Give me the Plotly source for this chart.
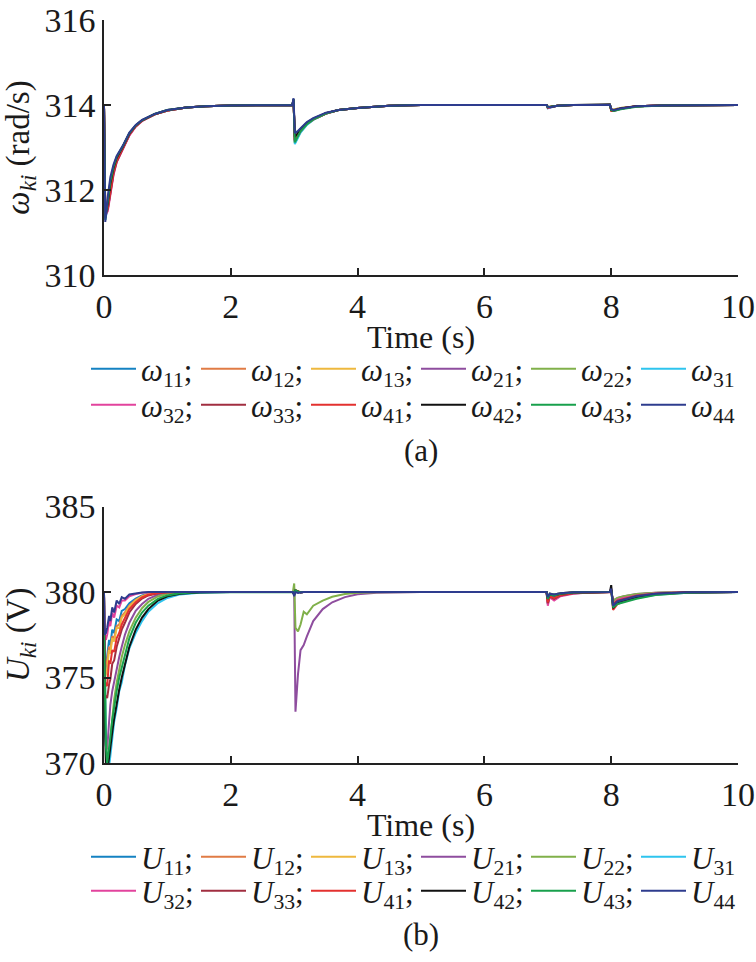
import plotly.graph_objects as go
from plotly.subplots import make_subplots

# --- data ---
# (a) angular frequency of each DG unit
t_omega = [0, 0.02, 0.06, 0.1, 0.15, 0.2, 0.3, 0.4, 0.5, 0.6, 0.8, 1.0, 1.3, 1.6, 2.0,
           2.97, 2.99, 3.01, 3.05, 3.1, 3.2, 3.3, 3.5, 3.7, 4.0, 4.5, 5.0,
           6.98, 7.0, 7.04, 7.15, 7.4, 7.98, 8.0, 8.04, 8.15, 8.4, 8.8, 10.0]

w11 = [314.0, 311.4, 311.7, 312.1, 312.5, 312.75, 313.0, 313.3, 313.5, 313.63, 313.78, 313.87, 313.94, 313.97, 313.99,
       314.0, 314.1, 313.15, 313.28, 313.4, 313.56, 313.66, 313.8, 313.88, 313.93, 313.98, 314.0,
       314.0, 313.93, 313.95, 313.98, 314.0, 314.0, 313.9, 313.87, 313.92, 313.97, 313.99, 314.0]
w12 = [314.0, 311.5, 311.6, 312.0, 312.45, 312.7, 313.0, 313.3, 313.5, 313.63, 313.78, 313.87, 313.94, 313.97, 313.99,
       314.0, 314.08, 313.2, 313.3, 313.42, 313.57, 313.67, 313.81, 313.88, 313.93, 313.98, 314.0,
       314.0, 313.95, 313.96, 313.98, 314.0, 314.0, 313.88, 313.89, 313.93, 313.97, 313.99, 314.0]
w13 = [314.0, 311.45, 311.65, 312.05, 312.5, 312.72, 313.02, 313.32, 313.51, 313.64, 313.78, 313.87, 313.94, 313.97, 313.99,
       314.0, 314.1, 313.18, 313.29, 313.41, 313.57, 313.67, 313.81, 313.88, 313.93, 313.98, 314.0,
       314.0, 313.95, 313.96, 313.98, 314.0, 314.0, 313.89, 313.88, 313.92, 313.97, 313.99, 314.0]
w21 = [314.0, 311.35, 311.55, 311.95, 312.4, 312.68, 312.98, 313.3, 313.5, 313.63, 313.78, 313.87, 313.94, 313.97, 313.99,
       314.0, 314.12, 313.12, 313.25, 313.38, 313.55, 313.66, 313.8, 313.88, 313.93, 313.98, 314.0,
       314.0, 313.94, 313.95, 313.98, 314.0, 314.0, 313.9, 313.87, 313.91, 313.97, 313.99, 314.0]
w22 = [314.0, 311.5, 311.7, 312.1, 312.5, 312.75, 313.02, 313.32, 313.51, 313.64, 313.78, 313.87, 313.94, 313.97, 313.99,
       314.0, 314.1, 313.1, 313.22, 313.36, 313.54, 313.65, 313.8, 313.88, 313.93, 313.98, 314.0,
       314.0, 313.96, 313.96, 313.98, 314.0, 314.0, 313.9, 313.89, 313.93, 313.97, 313.99, 314.0]
w31 = [314.0, 311.3, 311.6, 312.0, 312.42, 312.7, 313.0, 313.3, 313.5, 313.63, 313.78, 313.87, 313.94, 313.97, 313.99,
       314.0, 314.12, 313.08, 313.2, 313.35, 313.53, 313.65, 313.8, 313.88, 313.93, 313.98, 314.0,
       314.0, 313.92, 313.94, 313.98, 314.0, 314.0, 313.89, 313.86, 313.91, 313.97, 313.99, 314.0]
w32 = [314.0, 311.4, 311.5, 311.9, 312.35, 312.65, 312.97, 313.28, 313.49, 313.62, 313.78, 313.87, 313.94, 313.97, 313.99,
       314.0, 314.1, 313.15, 313.26, 313.39, 313.56, 313.66, 313.8, 313.88, 313.93, 313.98, 314.0,
       314.0, 313.93, 313.94, 313.98, 314.0, 314.0, 313.9, 313.88, 313.92, 313.97, 313.99, 314.0]
w33 = [314.0, 311.45, 311.55, 311.92, 312.38, 312.66, 312.98, 313.3, 313.5, 313.63, 313.78, 313.87, 313.94, 313.97, 313.99,
       314.0, 314.09, 313.18, 313.28, 313.4, 313.56, 313.66, 313.8, 313.88, 313.93, 313.98, 314.0,
       314.0, 313.94, 313.95, 313.98, 314.0, 314.0, 313.89, 313.88, 313.92, 313.97, 313.99, 314.0]
w41 = [314.0, 311.4, 311.6, 312.0, 312.44, 312.7, 313.0, 313.31, 313.5, 313.63, 313.78, 313.87, 313.94, 313.97, 313.99,
       314.0, 314.11, 313.16, 313.27, 313.4, 313.56, 313.66, 313.8, 313.88, 313.93, 313.98, 314.0,
       314.0, 313.95, 313.96, 313.98, 314.0, 314.0, 313.86, 313.86, 313.91, 313.97, 313.99, 314.0]
w42 = [314.0, 311.35, 311.7, 312.15, 312.52, 312.76, 313.03, 313.33, 313.52, 313.64, 313.79, 313.88, 313.94, 313.97, 313.99,
       314.0, 314.14, 313.25, 313.33, 313.44, 313.58, 313.68, 313.81, 313.88, 313.93, 313.98, 314.0,
       314.0, 313.95, 313.96, 313.98, 314.0, 314.02, 313.88, 313.87, 313.92, 313.97, 313.99, 314.0]
w43 = [314.0, 311.3, 311.75, 312.2, 312.55, 312.78, 313.04, 313.34, 313.52, 313.64, 313.79, 313.88, 313.94, 313.97, 313.99,
       314.0, 314.13, 313.12, 313.24, 313.38, 313.55, 313.66, 313.8, 313.88, 313.93, 313.98, 314.0,
       314.0, 313.95, 313.96, 313.98, 314.0, 314.0, 313.88, 313.86, 313.9, 313.96, 313.99, 314.0]
w44 = [314.0, 311.25, 311.85, 312.3, 312.6, 312.8, 313.05, 313.35, 313.53, 313.65, 313.79, 313.88, 313.94, 313.97, 313.99,
       314.0, 314.16, 313.34, 313.38, 313.46, 313.6, 313.69, 313.82, 313.88, 313.93, 313.98, 314.0,
       314.0, 313.96, 313.95, 313.98, 314.0, 314.0, 313.9, 313.88, 313.92, 313.97, 313.99, 314.0]

# (b) output voltage of each DG unit
t_volt = [0, 0.01, 0.03, 0.05, 0.08, 0.1, 0.13, 0.16, 0.2, 0.24, 0.28, 0.33, 0.4, 0.5, 0.6, 0.7, 0.85, 1.0, 1.2, 1.5, 2.0,
          2.98, 3.0, 3.02, 3.06, 3.1, 3.15, 3.2, 3.3, 3.45, 3.6, 3.8, 4.0, 4.3, 5.0,
          6.98, 7.0, 7.03, 7.1, 7.2, 7.4, 7.7, 7.98,
          8.0, 8.03, 8.1, 8.2, 8.4, 8.7, 9.2, 10.0]

u11 = [380.0, 375.2, 375.6, 376.2, 377.2, 376.9, 377.8, 377.6, 378.4, 378.3, 378.9, 379.0, 379.35, 379.62, 379.8, 379.9, 379.96, 379.99, 380.0, 380.0, 380.0,
       380.0, 379.85, 380.08, 380.02, 379.98, 380.0, 380.0, 380.0, 380.0, 380.0, 380.0, 380.0, 380.0, 380.0,
       380.0, 379.3, 379.75, 379.55, 379.8, 379.93, 379.98, 380.0,
       380.1, 379.4, 379.6, 379.7, 379.85, 379.94, 379.99, 380.0]
u12 = [380.0, 375.5, 375.8, 376.0, 376.8, 376.6, 377.4, 377.3, 378.0, 378.1, 378.6, 378.8, 379.2, 379.55, 379.76, 379.88, 379.95, 379.98, 380.0, 380.0, 380.0,
       380.0, 379.9, 380.1, 380.03, 379.99, 380.0, 380.0, 380.0, 380.0, 380.0, 380.0, 380.0, 380.0, 380.0,
       380.0, 379.6, 379.85, 379.8, 379.9, 379.97, 380.0, 380.0,
       380.1, 379.4, 379.6, 379.7, 379.85, 379.94, 379.99, 380.0]
u13 = [380.0, 375.0, 375.2, 375.5, 376.6, 376.4, 377.3, 377.1, 377.9, 377.9, 378.5, 378.7, 379.15, 379.52, 379.74, 379.87, 379.95, 379.98, 380.0, 380.0, 380.0,
       380.0, 379.9, 380.12, 380.04, 379.99, 380.0, 380.0, 380.0, 380.0, 380.0, 380.0, 380.0, 380.0, 380.0,
       380.0, 379.6, 379.85, 379.8, 379.9, 379.97, 380.0, 380.0,
       380.1, 379.4, 379.6, 379.7, 379.85, 379.94, 379.99, 380.0]
u21 = [380.0, 372.0, 371.0, 370.8, 372.4, 373.4, 374.2, 374.8, 375.4, 376.2, 376.8, 377.5, 378.2, 378.9, 379.3, 379.6, 379.84, 379.94, 379.98, 380.0, 380.0,
       380.0, 380.0, 373.0, 375.2, 376.6, 376.9, 377.4, 378.3, 379.0, 379.4, 379.7, 379.87, 379.96, 380.0,
       380.0, 379.7, 379.9, 379.85, 379.93, 379.98, 380.0, 380.0,
       380.05, 379.5, 379.65, 379.75, 379.88, 379.95, 379.99, 380.0]
u22 = [380.0, 376.8, 372.0, 369.5, 370.2, 371.4, 372.7, 373.7, 374.7, 375.5, 376.2, 376.9, 377.7, 378.5, 379.05, 379.42, 379.74, 379.9, 379.97, 380.0, 380.0,
       380.0, 380.5, 377.9, 377.7, 378.1, 378.85, 378.7, 379.2, 379.5, 379.72, 379.88, 379.95, 379.99, 380.0,
       380.0, 379.7, 379.9, 379.85, 379.93, 379.98, 380.0, 380.0,
       380.05, 379.5, 379.65, 379.75, 379.88, 379.95, 379.99, 380.0]
u31 = [380.0, 376.0, 371.0, 369.5, 369.8, 370.4, 371.4, 372.4, 373.2, 374.2, 374.7, 375.7, 376.7, 377.6, 378.3, 378.85, 379.35, 379.65, 379.86, 379.96, 380.0,
       380.0, 379.85, 380.08, 380.02, 379.98, 380.0, 380.0, 380.0, 380.0, 380.0, 380.0, 380.0, 380.0, 380.0,
       380.0, 379.5, 379.8, 379.7, 379.85, 379.95, 380.0, 380.0,
       380.1, 379.2, 379.35, 379.45, 379.65, 379.84, 379.96, 380.0]
u32 = [380.0, 377.3, 377.2, 377.5, 378.3, 378.0, 378.8, 378.5, 379.2, 379.1, 379.5, 379.5, 379.75, 379.88, 379.95, 379.98, 380.0, 380.0, 380.0, 380.0, 380.0,
       380.0, 379.85, 380.1, 380.02, 379.98, 380.0, 380.0, 380.0, 380.0, 380.0, 380.0, 380.0, 380.0, 380.0,
       380.0, 379.2, 379.7, 379.5, 379.75, 379.9, 379.98, 380.0,
       380.1, 379.3, 379.55, 379.65, 379.8, 379.92, 379.98, 380.0]
u33 = [380.0, 374.0, 373.9, 373.8, 374.6, 374.9, 375.8, 376.0, 376.8, 377.3, 377.8, 378.2, 378.8, 379.3, 379.62, 379.8, 379.93, 379.98, 380.0, 380.0, 380.0,
       380.0, 379.9, 380.08, 380.02, 379.99, 380.0, 380.0, 380.0, 380.0, 380.0, 380.0, 380.0, 380.0, 380.0,
       380.0, 379.35, 379.75, 379.6, 379.8, 379.93, 379.98, 380.0,
       380.1, 379.3, 379.5, 379.6, 379.78, 379.9, 379.98, 380.0]
u41 = [380.0, 374.8, 374.6, 374.5, 376.0, 375.8, 376.6, 376.5, 377.3, 377.6, 378.1, 378.5, 379.0, 379.4, 379.68, 379.84, 379.94, 379.98, 380.0, 380.0, 380.0,
       380.0, 379.85, 380.1, 380.03, 379.98, 380.0, 380.0, 380.0, 380.0, 380.0, 380.0, 380.0, 380.0, 380.0,
       380.0, 379.4, 379.75, 379.65, 379.82, 379.94, 379.99, 380.0,
       380.2, 378.95, 379.3, 379.45, 379.68, 379.86, 379.97, 380.0]
u42 = [380.0, 373.0, 370.0, 369.5, 370.3, 370.8, 371.8, 372.6, 373.5, 374.3, 375.0, 375.8, 376.8, 377.8, 378.5, 379.0, 379.5, 379.75, 379.9, 379.97, 380.0,
       380.0, 379.85, 380.08, 380.02, 379.98, 380.0, 380.0, 380.0, 380.0, 380.0, 380.0, 380.0, 380.0, 380.0,
       380.0, 379.6, 379.85, 379.8, 379.9, 379.97, 380.0, 380.0,
       380.4, 379.05, 379.4, 379.5, 379.7, 379.88, 379.97, 380.0]
u43 = [377.5, 375.0, 371.0, 370.0, 370.8, 371.5, 372.5, 373.3, 374.2, 375.0, 375.6, 376.4, 377.3, 378.2, 378.8, 379.2, 379.6, 379.8, 379.93, 379.98, 380.0,
       380.0, 379.9, 380.1, 380.02, 379.98, 380.0, 380.0, 380.0, 380.0, 380.0, 380.0, 380.0, 380.0, 380.0,
       380.0, 379.6, 379.85, 379.8, 379.9, 379.97, 380.0, 380.0,
       380.1, 379.1, 379.3, 379.4, 379.6, 379.82, 379.95, 380.0]
u44 = [380.0, 377.5, 377.6, 377.9, 378.6, 378.3, 379.1, 378.8, 379.5, 379.3, 379.7, 379.6, 379.85, 379.92, 379.97, 380.0, 380.0, 380.0, 380.0, 380.0, 380.0,
       380.0, 379.75, 380.0, 379.95, 379.98, 380.0, 380.0, 380.0, 380.0, 380.0, 380.0, 380.0, 380.0, 380.0,
       380.0, 379.7, 379.9, 379.85, 379.93, 379.98, 380.0, 380.0,
       380.2, 379.2, 379.45, 379.55, 379.75, 379.9, 379.98, 380.0]

unit_ids = ["11", "12", "13", "21", "22", "31", "32", "33", "41", "42", "43", "44"]
omega_series = [w11, w12, w13, w21, w22, w31, w32, w33, w41, w42, w43, w44]
volt_series = [u11, u12, u13, u21, u22, u31, u32, u33, u41, u42, u43, u44]

colors = ["#1482C2", "#E07B45", "#EEB83E", "#8E4D9E", "#80B04A", "#2EC4EE",
          "#E2439D", "#A12E40", "#E3312F", "#111111", "#18A04C", "#2E3C8E"]

SERIF = "Liberation Serif"
TXT = "#1a1a1a"
W, H = 756, 962

for s in omega_series:
    assert len(s) == len(t_omega)
for s in volt_series:
    assert len(s) == len(t_volt)


def legend_label(sym, uid, last):
    return f"<i>{sym}</i><sub>{uid}</sub>" + ("" if last else ";")


fig = make_subplots(rows=2, cols=1)

# one legend per row of entries: legend/legend2 for (a), legend3/legend4 for (b)
for i, (uid, ys) in enumerate(zip(unit_ids, omega_series)):
    fig.add_trace(go.Scatter(x=t_omega, y=ys, mode="lines",
                             line=dict(color=colors[i], width=2),
                             name=legend_label("ω", uid, i in (5, 11)),
                             legend="legend" if i < 6 else "legend2"),
                  row=1, col=1)

for i, (uid, ys) in enumerate(zip(unit_ids, volt_series)):
    fig.add_trace(go.Scatter(x=t_volt, y=ys, mode="lines",
                             line=dict(color=colors[i], width=2),
                             name=legend_label("U", uid, i in (5, 11)),
                             legend="legend3" if i < 6 else "legend4"),
                  row=2, col=1)

axis_style = dict(showline=True, linecolor="#222", linewidth=1.5, mirror=False,
                  ticks="inside", ticklen=7, tickwidth=1.5, tickcolor="#222",
                  showgrid=False, zeroline=False, automargin=False,
                  ticklabeloverflow="allow",
                  tickfont=dict(family=SERIF, size=34, color=TXT))

x_dom = [104 / W, 738 / W]
fig.update_xaxes(axis_style)
fig.update_yaxes(axis_style)

fig.update_xaxes(domain=x_dom, range=[0, 10], tickvals=[0, 2, 4, 6, 8, 10],
                 title=dict(text="Time (s)", standoff=2,
                            font=dict(family=SERIF, size=32, color=TXT)))
fig.update_yaxes(domain=[1 - 275 / H, 1 - 20 / H], range=[310, 316], tickvals=[310, 312, 314, 316],
                 title=dict(text="<i>ω</i><sub><i>ki</i></sub> (rad/s)",
                            font=dict(family=SERIF, size=33, color=TXT)),
                 row=1, col=1)
fig.update_yaxes(domain=[1 - 763 / H, 1 - 506.5 / H], range=[370, 385], tickvals=[370, 375, 380, 385],
                 title=dict(text="<i>U</i><sub><i>ki</i></sub> (V)",
                            font=dict(family=SERIF, size=33, color=TXT)),
                 row=2, col=1)

legend_style = dict(orientation="h", xanchor="left", yanchor="top", x=86 / W,
                    entrywidth=50, itemwidth=45, bgcolor="rgba(0,0,0,0)",
                    font=dict(family=SERIF, size=31, color=TXT),
                    traceorder="normal")

caption_font = dict(family=SERIF, size=31, color=TXT)

fig.update_layout(
    width=W, height=H,
    margin=dict(l=0, r=0, t=0, b=0),
    paper_bgcolor="white", plot_bgcolor="white",
    font=dict(family=SERIF, size=31, color=TXT),
    legend=dict(legend_style, y=1 - 342 / H),
    legend2=dict(legend_style, y=1 - 378 / H),
    legend3=dict(legend_style, y=1 - 830 / H),
    legend4=dict(legend_style, y=1 - 864 / H),
    annotations=[
        dict(text="(a)", x=421 / W, y=1 - 451 / H, xref="paper", yref="paper",
             xanchor="center", yanchor="middle", showarrow=False, font=caption_font),
        dict(text="(b)", x=421 / W, y=1 - 934 / H, xref="paper", yref="paper",
             xanchor="center", yanchor="middle", showarrow=False, font=caption_font),
    ],
)

# drop the browser's default body margin so the figure fills the window exactly
fig.write_html("out.html", config={"displayModeBar": False},
               post_script="document.body.style.margin = '0';")
